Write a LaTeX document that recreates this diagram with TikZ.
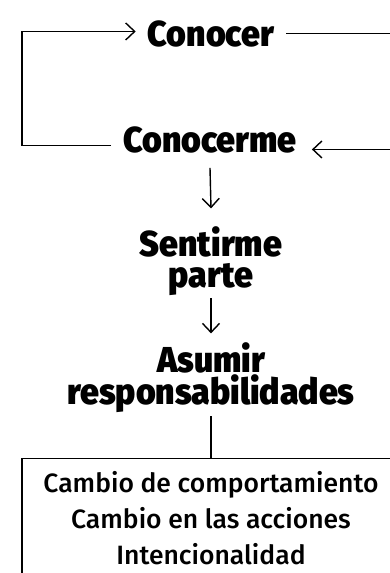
\documentclass[tikz,border=0pt]{standalone}
\usepackage{fontspec}
\setmainfont{Fira Sans}
\newfontfamily\pasofont{Fira Sans Black}[FakeStretch=0.94]
\newfontfamily\cajafont{Fira Sans Medium}
\usetikzlibrary{arrows.meta}
\tikzset{
  paso/.style={font=\fontsize{36}{30.5}\selectfont\pasofont, align=center, inner sep=0pt},
  caja/.style={draw, line width=1.4pt, font=\fontsize{26.5}{36}\selectfont\cajafont, align=center,
    minimum width=378pt, inner xsep=0pt, inner ysep=13pt},
  flecha/.style={-{Straight Barb[length=9pt,width=17pt]}, line width=1.4pt},
  linea/.style={line width=1.4pt}
}
\begin{document}
\begin{tikzpicture}[x=1pt,y=1pt]
  \useasboundingbox (0,0) rectangle (390,-573);
  \clip (0,0) rectangle (390,-573);

  % pasos
  \node[paso, anchor=base] (conocer) at (211,-46) {Conocer};
  \node[paso, anchor=base] (conocerme) at (210,-152) {Conocerme};
  \node[paso, anchor=base] (sentirme) at (211,-287) {Sentirme\\parte};
  \node[paso, anchor=base] (asumir) at (211,-404) {Asumir\\responsabilidades};

  % caja final
  \node[caja, anchor=north] (cambio) at (211,-458)
    {Cambio de comportamiento\\Cambio en las acciones\\Intencionalidad};

  % ciclo
  \coordinate (izq) at (22,0);
  \coordinate (der) at (400,0);
  \draw[flecha] ([xshift=-12pt,yshift=-6pt]conocerme.west) -- ([yshift=-6pt]conocerme.west -| izq)
    -- ([yshift=2pt]conocer.west -| izq) -- ([xshift=-12pt,yshift=2pt]conocer.west);
  \draw[flecha] ([xshift=12pt]conocer.east) -- (conocer.east -| der)
    -- ([yshift=-10pt]conocerme.east -| der) -- ([xshift=15pt,yshift=-10pt]conocerme.east);

  % hacia abajo
  \draw[flecha] ([yshift=-15pt]conocerme.south) -- ([yshift=18pt]sentirme.north);
  \draw[flecha] ([yshift=-3pt]sentirme.south) -- ([yshift=9pt]asumir.north);
  \draw[linea] ([yshift=-4pt]asumir.south) -- (cambio.north);
\end{tikzpicture}
\end{document}
